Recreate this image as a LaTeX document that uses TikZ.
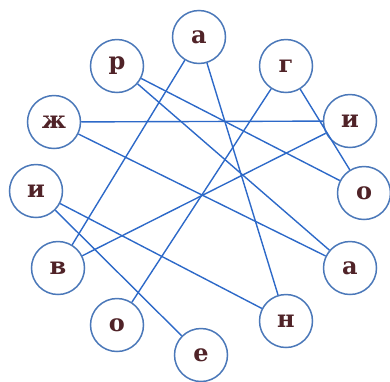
\documentclass[tikz,border=0pt]{standalone}
\usepackage{fontspec}
\setmainfont{DejaVu Serif}
\definecolor{linkblue}{RGB}{45,105,200}
\definecolor{ringblue}{RGB}{75,120,185}
\definecolor{letter}{RGB}{80,35,40}
\begin{document}
\begin{tikzpicture}[x=1pt,y=-1pt,
  letternode/.style={circle,draw=ringblue,line width=1.5pt,fill=white,minimum size=53pt,inner sep=0pt,text=letter,font=\fontsize{24}{24}\selectfont\bfseries},
  link/.style={draw=linkblue,line width=1.4pt}]
\useasboundingbox (0,0) rectangle (390,381);
\node[letternode] (a1) at (199,37) {а};
\node[letternode] (r) at (117,66) {р};
\node[letternode] (g) at (286,66) {г};
\node[letternode] (zh) at (54,122) {ж};
\node[letternode] (i1) at (350,121) {и};
\node[letternode] (i2) at (36,191) {и};
\node[letternode] (o1) at (364,193) {о};
\node[letternode] (v) at (58,268) {в};
\node[letternode] (a2) at (350,268) {а};
\node[letternode] (o2) at (117,325) {о};
\node[letternode] (n) at (286,321) {н};
\node[letternode] (e) at (201,355) {е};
\path[link] (a1) -- (v);
\path[link] (a1) -- (n);
\path[link] (r) -- (o1);
\path[link] (r) -- (a2);
\path[link] (g) -- (o2);
\path[link] (g) -- (o1);
\path[link] (zh) -- (i1);
\path[link] (zh) -- (a2);
\path[link] (i1) -- (v);
\path[link] (i2) -- (n);
\path[link] (i2) -- (e);
\end{tikzpicture}
\end{document}
